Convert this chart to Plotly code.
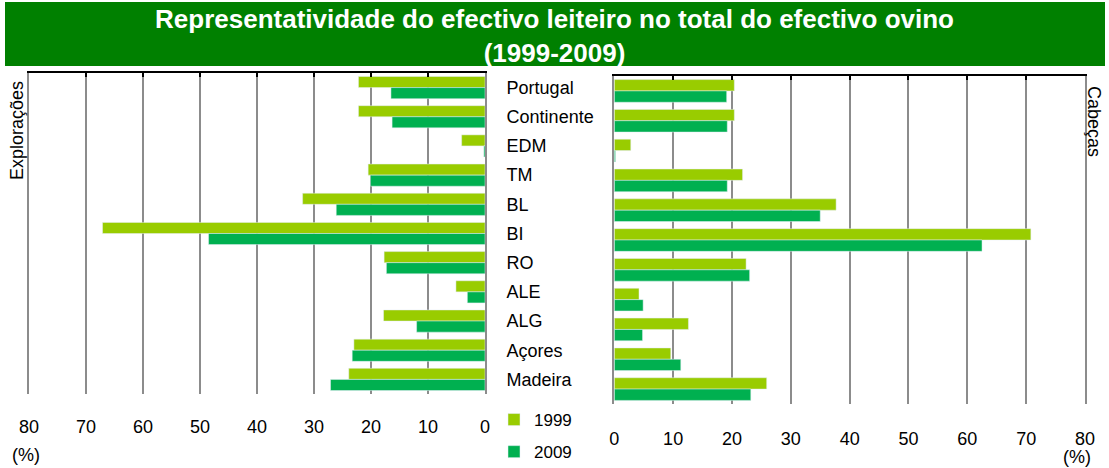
import plotly.graph_objects as go

# ---- data ----
categories = ["Portugal", "Continente", "EDM", "TM", "BL", "BI", "RO", "ALE", "ALG", "Açores", "Madeira"]
exploracoes_1999 = [22.2, 22.2, 4.1, 20.5, 32.0, 67.1, 17.7, 5.1, 17.8, 23.0, 23.9]
exploracoes_2009 = [16.5, 16.3, 0.2, 20.1, 26.1, 48.5, 17.3, 3.1, 12.0, 23.3, 27.1]
cabecas_1999 = [20.4, 20.4, 2.8, 21.8, 37.7, 70.8, 22.4, 4.2, 12.6, 9.6, 25.9]
cabecas_2009 = [19.1, 19.2, 0.2, 19.2, 35.0, 62.5, 23.0, 4.9, 4.8, 11.3, 23.2]
tick_values = [0, 10, 20, 30, 40, 50, 60, 70, 80]
series_names = ["1999", "2009"]

W, H = 1109, 468
C1999 = "#99CC00"
C2009 = "#00B050"
GRID = "#8c8c8c"
FONT = "Liberation Sans, Arial, sans-serif"


def px(x):
    return x / W


def py(y):
    return 1 - y / H


fig = go.Figure()

# left panel (Explorações)
fig.add_trace(go.Bar(y=categories, x=exploracoes_1999, orientation="h", name=series_names[0],
                     marker_color=C1999, xaxis="x", yaxis="y", legendgroup="a"))
fig.add_trace(go.Bar(y=categories, x=exploracoes_2009, orientation="h", name=series_names[1],
                     marker_color=C2009, xaxis="x", yaxis="y", legendgroup="b"))
# right panel (Cabeças)
fig.add_trace(go.Bar(y=categories, x=cabecas_1999, orientation="h", name=series_names[0],
                     marker_color=C1999, xaxis="x2", yaxis="y2", showlegend=False, legendgroup="a"))
fig.add_trace(go.Bar(y=categories, x=cabecas_2009, orientation="h", name=series_names[1],
                     marker_color=C2009, xaxis="x2", yaxis="y2", showlegend=False, legendgroup="b"))
# empty helper traces so the top (black) axes with tick marks are drawn
fig.add_trace(go.Scatter(x=[], y=[], xaxis="x3", yaxis="y", showlegend=False, hoverinfo="skip"))
fig.add_trace(go.Scatter(x=[], y=[], xaxis="x4", yaxis="y2", showlegend=False, hoverinfo="skip"))

tickfont = dict(family=FONT, size=18, color="black")
txtfont = dict(family=FONT, size=18, color="black")

fig.update_layout(
    width=W, height=H,
    margin=dict(l=0, r=0, t=0, b=0, autoexpand=False),
    paper_bgcolor="white", plot_bgcolor="rgba(0,0,0,0)",
    barmode="group", bargap=0.24, bargroupgap=0,
    font=dict(family=FONT, size=18, color="black"),
    title=dict(text="<b>Representatividade do efectivo leiteiro no total do efectivo ovino<br>(1999-2009)</b>",
               x=0.5, xanchor="center", y=1 - 28 / H, yanchor="top", yref="container",
               font=dict(family=FONT, size=26, color="white")),
    xaxis=dict(domain=[px(29), px(485)], range=[80, 0], tickvals=tick_values, anchor="y", automargin=False,
               showgrid=True, gridcolor=GRID, gridwidth=2, zeroline=False, showline=False,
               ticks="outside", ticklen=16, tickcolor="rgba(0,0,0,0)", tickfont=tickfont),
    yaxis=dict(domain=[py(394), py(73)], autorange="reversed", anchor="x", side="right", automargin=False,
               showgrid=False, zeroline=False, showline=True, mirror=True, linecolor=GRID, linewidth=2,
               ticks="outside", ticklen=16, tickcolor="rgba(0,0,0,0)", tickfont=tickfont),
    xaxis3=dict(overlaying="x", side="top", anchor="y", range=[80, 0], tickvals=tick_values, automargin=False,
                showgrid=False, zeroline=False, showline=True, linecolor="black", linewidth=2,
                ticks="inside", ticklen=4, tickwidth=2, tickcolor="black", showticklabels=False),
    xaxis2=dict(domain=[px(614.3), px(1085)], range=[0, 80], tickvals=tick_values, anchor="y2", automargin=False,
                showgrid=True, gridcolor=GRID, gridwidth=2, zeroline=False, showline=False,
                ticks="outside", ticklen=18, tickcolor="rgba(0,0,0,0)", tickfont=tickfont),
    yaxis2=dict(domain=[py(404), py(76)], autorange="reversed", anchor="x2", automargin=False,
                showgrid=False, zeroline=False, showline=True, mirror=True, linecolor=GRID, linewidth=2,
                showticklabels=False),
    xaxis4=dict(overlaying="x2", side="top", anchor="y2", range=[0, 80], tickvals=tick_values, automargin=False,
                showgrid=False, zeroline=False, showline=True, linecolor="black", linewidth=2,
                ticks="inside", ticklen=4, tickwidth=2, tickcolor="black", showticklabels=False),
    legend=dict(x=px(494), y=py(402), xanchor="left", yanchor="top",
                traceorder="grouped", tracegroupgap=7, itemwidth=30,
                font=dict(family=FONT, size=17, color="black"), bgcolor="rgba(0,0,0,0)"),
    shapes=[dict(type="rect", xref="paper", yref="paper", x0=px(5), x1=px(1105), y0=py(66), y1=py(2),
                 fillcolor="#008000", line=dict(width=0), layer="below")],
    annotations=[
        dict(text="Explorações", x=px(17), y=py(131), xref="paper", yref="paper", textangle=-90,
             xanchor="center", yanchor="middle", showarrow=False, font=txtfont),
        dict(text="Cabeças", x=px(1094), y=py(121), xref="paper", yref="paper", textangle=90,
             xanchor="center", yanchor="middle", showarrow=False, font=txtfont),
        dict(text="(%)", x=px(26), y=py(455), xref="paper", yref="paper",
             xanchor="center", yanchor="middle", showarrow=False, font=txtfont),
        dict(text="(%)", x=px(1077), y=py(457), xref="paper", yref="paper",
             xanchor="center", yanchor="middle", showarrow=False, font=txtfont),
    ],
)

fig.write_html("out.html", config={"displayModeBar": False},
               post_script="document.body.style.margin='0';")
